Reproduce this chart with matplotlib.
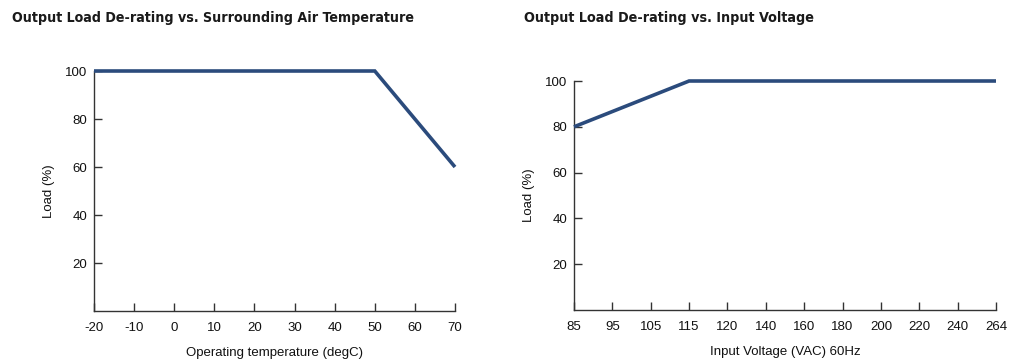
import matplotlib
matplotlib.use("Agg")
import matplotlib.pyplot as plt
from matplotlib import font_manager as fm

# ---- data ----
temp_ticks = [-20, -10, 0, 10, 20, 30, 40, 50, 60, 70]
temp_x = [-20, 50, 70]
temp_load = [100, 100, 60]

volt_labels = ["85", "95", "105", "115", "120", "140", "160", "180", "200", "220", "240", "264"]
volt_x = ["85", "115", "264"]
volt_load = [80, 100, 100]

load_ticks = [20, 40, 60, 80, 100]

title_left = "Output Load De-rating vs. Surrounding Air Temperature"
title_right = "Output Load De-rating vs. Input Voltage"

plt.rcParams["font.family"] = ["Liberation Sans", "DejaVu Sans"]
plt.rcParams["axes.unicode_minus"] = False

W, H = 1017, 364
fig = plt.figure(figsize=(W / 100, H / 100), dpi=100)

line_color = "#2b4b7c"
axis_color = "#333333"

def style(ax):
    for s in ("top", "right"):
        ax.spines[s].set_visible(False)
    for s in ("left", "bottom"):
        ax.spines[s].set_color(axis_color)
        ax.spines[s].set_linewidth(1.0)
    ax.tick_params(axis="both", direction="in", length=6, width=1.0,
                   color=axis_color, labelsize=9.5, labelcolor="#111111")
    ax.tick_params(axis="x", pad=8)
    ax.tick_params(axis="y", pad=5)
    ax.set_ylim(0, 100)
    ax.set_yticks(load_ticks)
    ax.set_ylabel("Load (%)", fontsize=9.5, color="#111111", labelpad=7)

# left chart
ax1 = fig.add_axes([94 / W, 1 - 311 / H, 361 / W, 240 / H])
style(ax1)
ax1.plot(temp_x, temp_load, color=line_color, lw=2.6, clip_on=False,
         solid_capstyle="butt", solid_joinstyle="miter", zorder=5)
ax1.set_xlim(-20, 70)
ax1.set_xticks(temp_ticks)
ax1.set_xlabel("Operating temperature (degC)", fontsize=9.5, color="#111111", labelpad=9)

# right chart
ax2 = fig.add_axes([574 / W, 1 - 310 / H, 422 / W, 229 / H])
style(ax2)
idx = {lab: i for i, lab in enumerate(volt_labels)}
ax2.plot([idx[v] for v in volt_x], volt_load, color=line_color, lw=2.6, clip_on=False,
         solid_capstyle="butt", solid_joinstyle="miter", zorder=5)
ax2.set_xlim(0, len(volt_labels) - 1)
ax2.set_xticks(range(len(volt_labels)))
ax2.set_xticklabels(volt_labels)
ax2.set_xlabel("Input Voltage (VAC) 60Hz", fontsize=9.5, color="#111111", labelpad=9)

title_kw = dict(fontsize=12, fontweight="bold", fontstretch="condensed",
                family=["DejaVu Sans"], color="#1a1a1a", va="center", ha="left")
t1 = fig.text(12 / W, 1 - 18 / H, title_left, **title_kw)
t2 = fig.text(524 / W, 1 - 18 / H, title_right, **title_kw)

# fit titles to the reference widths
fig.canvas.draw()
r = fig.canvas.get_renderer()
for t, target in ((t1, 401), (t2, 291)):
    w = t.get_window_extent(r).width
    t.set_fontsize(t.get_fontsize() * target / w)

fig.savefig("out.png", dpi=100)
